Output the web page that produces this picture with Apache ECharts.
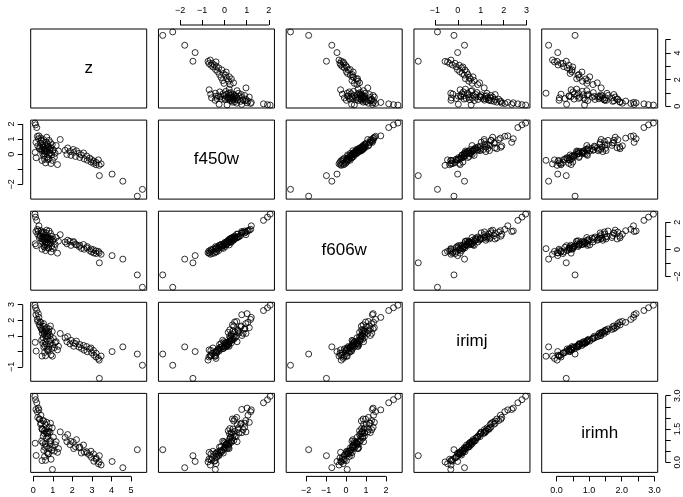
<!DOCTYPE html>
<html>
<head>
<meta charset="utf-8">
<script src="https://cdn.jsdelivr.net/npm/echarts@6/dist/echarts.min.js"></script>
<style>
  html, body { margin: 0; padding: 0; background: #fff; }
  #chart { width: 683px; height: 497px; }
</style>
</head>
<body>
<div id="chart"></div>
<script>
// Variable names, drawn on the diagonal
const varNames = ['z', 'f450w', 'f606w', 'irimj', 'irimh'];

// One entry per object, same order in every array (null = not measured)
const z = [
  0.09, 0.12, 0.18,
  5.58, 5.32, 4.58, 4.03, 3.38,
  1.63, 1.72, 1.76, 1.88, 1.93, 2.05, 2.07, 2.16, 2.21, 2.34, 2.38, 2.46, 2.57, 2.60, 2.73, 2.76, 2.88, 2.95, 2.98, 3.08, 3.10, 3.21, 3.22, 3.33, 3.37, 3.47,
  0.14, 0.21, 0.23, 0.26, 0.31, 0.29, 0.37, 0.34, 0.41, 0.44, 0.39, 0.48, 0.51, 0.46, 0.56, 0.53, 0.62, 0.57, 0.66, 0.69, 0.64, 0.75, 0.72, 0.81, 0.79, 0.88, 0.86, 0.97,
  0.10, 0.15, 0.43, 0.45, 0.49, 0.54, 0.51, 0.58, 0.61, 0.63, 0.59, 0.68, 0.71, 0.67, 0.76, 0.74, 0.80, 0.83, 0.78, 0.87, 0.91, 0.89, 0.94, 0.99, 0.98, 1.03, 1.08, 1.12, 1.17, 1.24, 1.38, 1.29
];
const f450w = [
  2.06, 1.94, 1.76,
  -2.33, -2.78, -1.79, -1.32, -1.42,
  0.26, -0.02, 0.41, 0.18, -0.08, 0.31, 0.12, -0.15, 0.22, 0.05, -0.22, -0.05, 0.08, -0.31, -0.12, -0.40, -0.26, -0.52, -0.36, -0.61, -0.45, -0.70, -0.55, -0.38, -0.74, -0.64,
  0.78, 1.18, 0.55, 1.02, 0.36, 1.21, 0.73, 0.46, 0.92, 0.24, 1.06, 0.61, 0.42, 0.84, 0.31, 0.96, 0.58, 0.17, 0.79, 1.12, 0.38, 0.66, 0.23, 0.91, 0.47, 0.76, 0.32, 0.63,
  0.12, -0.24, 0.33, -0.42, 0.02, -0.13, 0.48, -0.34, 0.22, -0.58, 0.03, 0.37, -0.18, 0.16, -0.37, 0.53, -0.02, 0.27, -0.27, 0.08, -0.62, 0.42, -0.06, 0.19, -0.41, 0.28, -0.21, 0.06, 0.57, -0.69, 0.97, 0.21
];
const f606w = [
  2.60, 2.38, 2.14,
  -2.78, -1.87, -0.71, -0.45, -0.98,
  0.55, 0.42, 0.68, 0.60, 0.30, 0.52, 0.58, 0.38, 0.34, 0.22, 0.31, 0.08, 0.36, 0.02, 0.12, 0.21, -0.08, 0.04, -0.18, -0.02, -0.26, -0.11, -0.30, -0.14, -0.24, -0.35,
  1.32, 1.48, 1.12, 1.36, 0.86, 1.74, 1.02, 0.98, 1.22, 0.78, 1.38, 1.14, 0.77, 1.29, 0.84, 1.28, 0.88, 0.68, 1.22, 1.42, 0.90, 0.94, 0.74, 1.36, 0.82, 1.18, 0.80, 0.96,
  0.42, 0.28, 0.62, 0.02, 0.52, 0.22, 0.92, 0.16, 0.54, -0.08, 0.33, 0.84, 0.31, 0.48, 0.12, 0.83, 0.41, 0.70, 0.08, 0.55, -0.18, 0.72, 0.26, 0.64, 0.06, 0.74, 0.17, 0.38, 0.88, -0.27, 1.09, 0.61
];
const irimj = [
  2.96, 2.80, 2.62,
  -0.89, -0.17, 0.29, -0.01, -1.73,
  0.87, 0.62, 0.95, 0.48, 0.71, 0.55, 0.33, 0.50, 0.66, 0.28, 0.44, 0.19, 0.38, 0.08, 0.31, -0.02, 0.16, 0.22, -0.08, 0.06, -0.24, -0.36, -0.12, -0.45, -0.56, -0.30,
  2.35, 2.05, 1.92, 2.42, 1.70, 2.18, 1.58, 1.88, 1.46, 1.38, 1.86, 1.34, 1.62, 1.16, 1.12, 1.78, 1.41, 1.22, 1.02, 1.52, 1.31, 1.18, 0.97, 1.44, 1.24, 1.63, 1.01, 1.27,
  0.58, 0.02, 0.72, -0.30, 0.52, 0.27, 0.88, -0.07, 0.63, -0.28, 0.36, 0.78, 0.13, 0.47, 0.02, 0.97, 0.28, 0.67, 0.12, 0.48, -0.22, 0.77, 0.18, 0.42, -0.31, 0.83, 0.24, 0.57, 0.62, 0.10, 1.15, 0.33
];
const irimh = [
  2.97, 2.82, 2.68,
  null, 0.57, -0.24, 0.04, 0.30,
  1.12, 0.93, 1.25, 0.80, 0.95, 0.90, 0.62, 0.70, 1.02, 0.66, 0.69, 0.42, 0.78, 0.47, 0.48, 0.41, 0.33, 0.50, 0.22, 0.38, 0.05, 0.14, 0.20, -0.06, 0.02, -0.12,
  2.38, 2.28, 2.02, 2.44, 1.95, 2.36, 1.72, 1.94, 1.76, 1.52, 2.12, 1.48, 1.86, 1.47, 1.30, 1.88, 1.70, 1.42, 1.34, 1.80, 1.50, 1.33, 1.28, 1.58, 1.40, 1.76, 1.36, 1.55,
  0.86, 0.31, 0.96, 0.08, 0.88, 0.54, 1.18, 0.26, 0.84, 0.09, 0.68, 1.09, 0.44, 0.72, 0.39, 1.16, 0.63, 0.95, 0.38, 0.83, 0.14, 0.98, 0.55, 0.67, -0.32, 1.13, 0.51, 0.79, 0.93, 0.45, 1.37, 0.62
];

// Tick positions and which of them carry a label, per variable
const zTicks = [0, 1, 2, 3, 4, 5];
const zHorizLabels = [0, 1, 2, 3, 4, 5];
const zVertLabels = [0, 2, 4];
const f450wTicks = [-2, -1, 0, 1, 2];
const f450wHorizLabels = [-2, -1, 0, 1, 2];
const f450wVertLabels = [-2, 0, 1, 2];
const f606wTicks = [-2, -1, 0, 1, 2];
const f606wHorizLabels = [-2, -1, 0, 1, 2];
const f606wVertLabels = [-2, 0, 2];
const irimjTicks = [-1, 0, 1, 2, 3];
const irimjHorizLabels = [-1, 0, 1, 2, 3];
const irimjVertLabels = [-1, 1, 2, 3];
const irimhTicks = [0, 0.5, 1, 1.5, 2, 2.5, 3];
const irimhHorizLabels = [0, 1, 2, 3];
const irimhVertLabels = [0, 1.5, 3];

const columns = [z, f450w, f606w, irimj, irimh];
const tickSets = [zTicks, f450wTicks, f606wTicks, irimjTicks, irimhTicks];
const horizLabelSets = [zHorizLabels, f450wHorizLabels, f606wHorizLabels, irimjHorizLabels, irimhHorizLabels];
const vertLabelSets = [zVertLabels, f450wVertLabels, f606wVertLabels, irimjVertLabels, irimhVertLabels];
const labelDecimals = [0, 0, 0, 0, 1];

// Panel layout
const N = varNames.length;
const LAYOUT = { left0: 30.7, top0: 29, colStep: 127.75, rowStep: 91.1, w: 116, h: 79 };
const AXIS = { hOffset: 4, vOffset: 8, tickLen: 5, hMargin: 10, vMargin: 7, fontSize: 9 };
const FONT = "'Liberation Sans', Arial, Helvetica, sans-serif";

// Data range (missing values skipped) stretched by 4% on each side
function paddedRange(arr) {
  const vals = arr.filter(v => v !== null);
  const lo = Math.min.apply(null, vals), hi = Math.max.apply(null, vals);
  const r = hi - lo;
  return [lo - 0.04 * r, hi + 0.04 * r];
}
const ranges = columns.map(paddedRange);

function fmt(v, d) {
  const s = Math.abs(v).toFixed(d);
  return v < 0 ? '\u2212' + s : s;
}

function axisDef(varIdx, gridIdx, shown, position, isX) {
  const [lo, hi] = ranges[varIdx];
  const base = {
    type: 'value', gridIndex: gridIdx, min: lo, max: hi, position: position,
    splitLine: { show: false }, axisLine: { show: false, onZero: false },
    axisTick: { show: false }, axisLabel: { show: false }, silent: true
  };
  if (!shown) return base;
  const labels = isX ? horizLabelSets[varIdx] : vertLabelSets[varIdx];
  return Object.assign(base, {
    offset: isX ? AXIS.hOffset : AXIS.vOffset,
    axisTick: {
      show: true, inside: false, length: AXIS.tickLen,
      customValues: tickSets[varIdx],
      lineStyle: { color: '#000', width: 1 }
    },
    axisLabel: {
      show: true, customValues: labels,
      margin: isX ? AXIS.hMargin : AXIS.vMargin,
      rotate: isX ? 0 : 90,
      color: '#000', fontSize: AXIS.fontSize, fontFamily: FONT,
      formatter: v => fmt(v, labelDecimals[varIdx])
    }
  });
}

const grids = [], xAxes = [], yAxes = [], series = [], shownAxes = [];
for (let i = 0; i < N; i++) {
  for (let j = 0; j < N; j++) {
    const g = i * N + j;
    grids.push({
      left: LAYOUT.left0 + j * LAYOUT.colStep,
      top: LAYOUT.top0 + i * LAYOUT.rowStep,
      width: LAYOUT.w, height: LAYOUT.h,
      show: true, borderColor: '#000', borderWidth: 1, backgroundColor: 'transparent'
    });
    const showX = (i === N - 1 && j % 2 === 0) || (i === 0 && j % 2 === 1);
    const showY = (j === 0 && i % 2 === 1) || (j === N - 1 && i % 2 === 0);
    const xPos = i === 0 ? 'top' : 'bottom';
    const yPos = j === 0 ? 'left' : 'right';
    xAxes.push(axisDef(j, g, showX, xPos, true));
    yAxes.push(axisDef(i, g, showY, yPos, false));
    if (showX) shownAxes.push({ kind: 'x', g, row: i, col: j, v: j, pos: xPos });
    if (showY) shownAxes.push({ kind: 'y', g, row: i, col: j, v: i, pos: yPos });
    if (i !== j) {
      const pts = [];
      columns[j].forEach((x, k) => {
        const y = columns[i][k];
        if (x !== null && y !== null) pts.push([x, y]);
      });
      series.push({
        type: 'scatter', xAxisIndex: g, yAxisIndex: g,
        data: pts,
        symbol: 'circle', symbolSize: 6,
        itemStyle: { color: 'rgba(0,0,0,0)', borderColor: '#000', borderWidth: 1 },
        silent: true
      });
    }
  }
}

const chart = echarts.init(document.getElementById('chart'));
chart.setOption({
  animation: false,
  backgroundColor: '#fff',
  grid: grids, xAxis: xAxes, yAxis: yAxes, series: series
});

// Diagonal names and the axis lines that run from first to last tick
const elements = [];
for (let i = 0; i < N; i++) {
  elements.push({
    type: 'text',
    x: LAYOUT.left0 + i * LAYOUT.colStep + LAYOUT.w / 2,
    y: LAYOUT.top0 + i * LAYOUT.rowStep + LAYOUT.h / 2,
    style: {
      text: varNames[i], fill: '#000', fontSize: 17, fontFamily: FONT,
      align: 'center', verticalAlign: 'middle'
    },
    silent: true
  });
}
shownAxes.forEach(a => {
  const ticks = tickSets[a.v];
  const t0 = ticks[0], t1 = ticks[ticks.length - 1];
  const gl = LAYOUT.left0 + a.col * LAYOUT.colStep;
  const gt = LAYOUT.top0 + a.row * LAYOUT.rowStep;
  let shape;
  if (a.kind === 'x') {
    const p0 = chart.convertToPixel({ xAxisIndex: a.g }, t0);
    const p1 = chart.convertToPixel({ xAxisIndex: a.g }, t1);
    const y = a.pos === 'bottom' ? gt + LAYOUT.h + AXIS.hOffset : gt - AXIS.hOffset;
    shape = { x1: p0, y1: y, x2: p1, y2: y };
  } else {
    const p0 = chart.convertToPixel({ yAxisIndex: a.g }, t0);
    const p1 = chart.convertToPixel({ yAxisIndex: a.g }, t1);
    const x = a.pos === 'right' ? gl + LAYOUT.w + AXIS.vOffset : gl - AXIS.vOffset;
    shape = { x1: x, y1: p0, x2: x, y2: p1 };
  }
  elements.push({ type: 'line', shape: shape, style: { stroke: '#000', lineWidth: 1 }, silent: true });
});
chart.setOption({ graphic: { elements: elements } });
</script>
</body>
</html>
